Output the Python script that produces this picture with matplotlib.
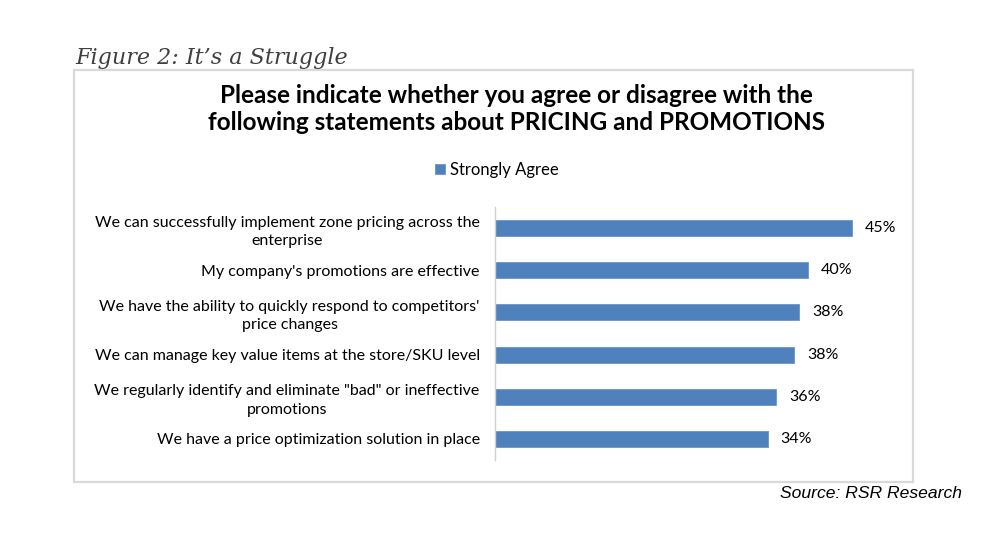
import matplotlib.pyplot as plt
from matplotlib.patches import Rectangle

categories = [
    "We can successfully implement zone pricing across the\nenterprise",
    "My company's promotions are effective",
    "We have the ability to quickly respond to competitors'\nprice changes",
    "We can manage key value items at the store/SKU level",
    "We regularly identify and eliminate \"bad\" or ineffective\npromotions",
    "We have a price optimization solution in place",
]
values = [45.2, 39.6, 38.5, 37.9, 35.6, 34.5]
value_labels = ["45%", "40%", "38%", "38%", "36%", "34%"]
series_name = "Strongly Agree"

bar_color = "#4F81BD"
font = "Lato"

fig = plt.figure(figsize=(10, 5.57), dpi=100)

# grey frame around the chart
fig.patches.append(Rectangle((0.074, 1 - 482 / 557), 0.839, 412 / 557,
                             transform=fig.transFigure, fill=False,
                             edgecolor="#d9d9d9", linewidth=1.6))

ax = fig.add_axes([0.495, 1 - 460 / 557, 0.395, 253 / 557])
y = list(range(len(categories)))
ax.barh(y, values, height=0.38, color=bar_color, edgecolor="#6a95c9",
        linewidth=0.6, label=series_name)
ax.set_ylim(len(categories) - 0.5, -0.5)
ax.set_xlim(0, 50)

for yi, v, lab in zip(y, values, value_labels):
    ax.text(v + 1.6, yi, lab, va="center", ha="left", fontsize=11.5,
            family=font, color="black")

ax.set_yticks(y)
ax.set_yticklabels(categories, fontsize=11.5, family=font,
                   multialignment="center", linespacing=1.4)
ax.tick_params(axis="y", length=0, pad=11)
ax.set_xticks([])
for s in ["top", "right", "bottom"]:
    ax.spines[s].set_visible(False)
ax.spines["left"].set_color("#d0d0d0")
ax.spines["left"].set_linewidth(1.0)

fig.text(0.516, 1 - 109 / 557,
         "Please indicate whether you agree or disagree with the\n"
         "following statements about PRICING and PROMOTIONS",
         ha="center", va="center", fontsize=17.5, fontweight="bold",
         family=font, linespacing=1.2)

fig.legend(handles=ax.patches[:1], labels=[series_name],
           loc="center", bbox_to_anchor=(0.497, 1 - 170 / 557),
           frameon=False, prop={"family": font, "size": 12},
           handlelength=0.6, handleheight=0.6, handletextpad=0.3)

fig.text(0.075, 1 - 58 / 557, "Figure 2: It\u2019s a Struggle",
         ha="left", va="center", fontsize=16, style="italic",
         family="DejaVu Serif", color="#404040")

fig.text(0.962, 1 - 494 / 557, "Source: RSR Research", ha="right",
         va="center", fontsize=12.6, style="italic",
         family="Liberation Sans", color="black")

fig.savefig("out.png", dpi=100)
